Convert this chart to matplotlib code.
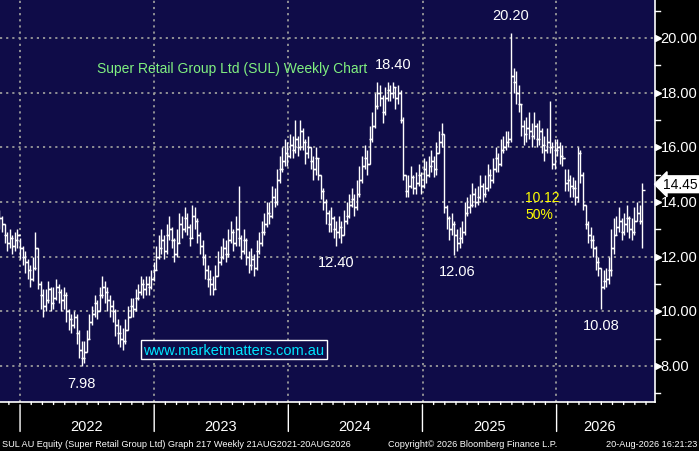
import matplotlib.pyplot as plt
import numpy as np

plt.rcParams['font.family'] = ['Liberation Sans', 'DejaVu Sans']

# weekly bars, index 0 = first week of 2022
start_week = -8
closes = [13.4,13.2,12.8,12.5,12.7,12.4,12.6,12.8,
    12.3,12.0,11.8,11.5,11.2,11.6,12.3,11.0,
    10.6,10.2,10.4,10.8,10.3,10.5,10.9,10.7,
    10.4,10.6,10.0,9.7,9.5,9.8,9.2,8.6,
    8.3,8.5,9.0,9.6,9.9,10.3,10.0,10.6,
    10.9,10.7,10.4,10.2,10.0,9.5,9.2,9.0,
    8.9,9.3,9.8,10.2,10.1,10.5,10.7,11.0,
    10.8,11.0,10.9,11.2,11.5,12.0,12.3,12.6,
    12.2,12.8,13.0,12.6,12.1,12.5,13.2,13.0,
    13.4,13.1,12.7,13.5,13.3,12.8,12.4,12.0,
    11.5,11.2,11.0,10.8,11.3,11.8,12.0,12.3,
    12.1,12.6,12.9,12.5,13.0,12.7,12.2,12.6,
    12.0,11.7,11.9,11.6,12.2,12.5,12.9,13.2,
    13.6,13.5,14.2,14.0,14.8,15.2,15.5,15.8,
    15.7,16.1,15.9,16.3,16.0,16.6,16.2,15.8,
    16.0,15.5,15.2,15.6,15.0,14.4,14.0,13.6,
    13.2,13.4,13.0,12.9,13.1,12.8,13.3,13.5,
    13.9,14.1,13.8,14.3,14.8,15.3,15.6,15.4,
    16.3,16.8,17.5,18.0,17.8,17.3,17.8,18.1,
    18.0,18.2,17.8,18.0,17.0,15.0,14.4,14.6,
    14.9,14.5,14.7,15.0,14.6,15.2,15.0,15.3,
    15.5,15.2,15.8,16.2,16.5,13.8,13.4,13.0,
    13.2,12.8,12.5,12.7,12.9,13.6,13.8,13.9,
    14.3,14.0,14.2,14.6,14.3,14.5,15.0,14.8,
    15.2,15.6,15.4,15.9,16.0,16.2,16.3,18.6,
    18.4,18.0,17.6,16.8,16.5,16.7,16.6,16.4,
    16.8,16.3,16.6,16.1,15.9,16.2,16.0,15.4,
    15.9,16.0,15.7,15.6,14.7,14.8,14.6,14.5,
    14.2,15.8,15.0,13.9,13.2,12.8,12.6,12.3,
    11.8,11.6,10.9,11.1,11.2,11.5,12.3,12.8,
    13.1,13.3,12.9,13.2,13.4,13.0,12.9,13.3,
    13.6,13.3,14.45]
highs = [13.7,13.5,13.2,12.9,13.0,12.8,12.9,13.0,
    12.7,12.4,12.2,11.9,11.7,12.0,12.9,12.3,
    11.1,10.8,10.8,11.1,10.9,10.9,11.2,11.0,
    10.8,10.9,10.7,10.1,9.9,10.0,9.9,9.3,
    8.9,8.9,9.3,9.9,10.2,10.6,10.4,10.9,
    11.3,11.1,10.9,10.6,10.4,10.1,9.7,9.5,
    9.4,9.7,10.2,10.5,10.5,10.8,11.0,11.3,
    11.2,11.3,11.3,11.5,11.8,12.4,12.8,13.0,
    12.8,13.2,13.5,13.1,12.7,13.0,13.6,13.5,
    13.8,13.6,13.2,13.9,13.8,13.4,12.9,12.6,
    12.1,11.7,11.5,11.3,11.7,12.2,12.4,12.7,
    12.6,13.0,13.3,13.0,13.5,14.6,12.8,13.0,
    12.7,12.2,12.3,12.1,12.6,12.9,13.3,13.6,
    14.0,14.0,14.6,14.5,15.2,15.7,16.0,16.3,
    16.2,16.5,16.4,17.0,16.4,17.0,16.7,16.3,
    16.4,16.0,15.7,16.0,15.6,15.0,14.5,14.1,
    13.7,13.8,13.5,13.3,13.5,13.3,13.7,14.0,
    14.3,14.5,14.3,14.8,15.3,15.7,16.1,15.9,
    16.8,17.3,18.0,18.4,18.3,17.9,18.2,18.4,
    18.3,18.4,18.2,18.3,18.1,17.1,15.0,15.0,
    15.3,15.0,15.1,15.4,15.1,15.6,15.5,15.7,
    15.9,15.7,16.2,16.6,16.9,16.5,13.9,13.5,
    13.6,13.3,13.0,13.1,13.3,14.0,14.2,14.3,
    14.7,14.5,14.6,15.0,14.7,15.0,15.4,15.2,
    15.6,16.0,15.8,16.3,16.4,16.6,16.6,20.2,
    18.9,18.8,18.3,17.6,17.0,17.1,17.3,16.9,
    17.3,16.9,17.0,16.7,16.4,16.7,17.7,16.2,
    16.3,16.3,16.2,16.1,15.2,15.2,15.0,14.9,
    14.8,16.0,15.9,15.1,13.9,13.3,13.1,12.8,
    12.4,12.0,11.6,11.5,11.6,12.0,13.0,13.4,
    13.5,13.8,13.4,13.6,13.9,13.5,13.4,13.8,
    14.0,13.9,14.7]
lows = [13.0,12.9,12.5,12.2,12.3,12.1,12.2,12.3,
    11.9,11.7,11.4,11.2,10.9,11.1,11.5,10.8,
    10.1,9.8,10.0,10.3,10.0,10.1,10.4,10.3,
    10.0,10.1,9.6,9.3,9.2,9.4,8.8,8.3,
    7.98,8.1,8.5,9.0,9.5,9.8,9.7,10.0,
    10.5,10.3,10.0,9.8,9.6,9.1,8.8,8.7,
    8.6,8.8,9.3,9.8,9.8,10.0,10.4,10.6,
    10.5,10.6,10.6,10.8,11.1,11.5,11.9,12.1,
    11.9,12.1,12.6,12.3,11.8,12.0,12.5,12.7,
    12.9,12.8,12.4,12.7,13.0,12.5,12.1,11.7,
    11.2,10.9,10.6,10.6,10.8,11.3,11.7,11.9,
    11.8,12.0,12.5,12.2,12.4,12.4,11.9,12.1,
    11.7,11.4,11.5,11.3,11.5,12.1,12.4,12.8,
    13.1,13.2,13.4,13.8,13.9,14.7,15.1,15.3,
    15.3,15.6,15.6,15.8,15.7,15.9,15.9,15.4,
    15.6,15.2,14.8,15.0,14.8,14.1,13.7,13.2,
    12.9,12.9,12.7,12.4,12.7,12.5,12.8,13.2,
    13.4,13.8,13.5,13.7,14.2,14.7,15.2,15.0,
    15.4,16.2,16.7,17.4,17.5,16.9,17.2,17.7,
    17.7,17.8,17.4,17.6,16.9,14.8,14.2,14.2,
    14.5,14.3,14.3,14.6,14.3,14.5,14.7,14.9,
    15.1,14.9,15.0,15.8,16.0,13.6,13.0,12.6,
    12.8,12.06,12.2,12.3,12.5,12.8,13.5,13.6,
    13.8,13.8,13.9,14.1,14.0,14.2,14.4,14.5,
    14.7,15.1,15.1,15.3,15.8,15.9,16.0,16.2,
    18.0,17.6,17.3,16.4,16.1,16.2,16.3,16.0,
    16.3,16.0,16.1,15.8,15.5,15.8,15.8,15.2,
    15.2,15.7,15.4,15.3,14.4,14.4,14.2,14.2,
    13.9,14.0,14.7,13.7,13.0,12.5,12.3,12.0,
    11.5,11.3,10.08,10.8,10.9,11.0,11.3,12.1,
    12.8,12.9,12.6,12.8,12.9,12.7,12.6,12.8,
    13.3,13.2,12.3]
opens = [closes[0]] + closes[:-1]

years = ['2022', '2023', '2024', '2025', '2026']
year_starts = [0, 52.1, 104.3, 156.8, 208.6]
price_ticks = [8, 10, 12, 14, 16, 18, 20]
extremes = [(24, 7.98, 'below'), (123, 12.40, 'below'), (145, 18.40, 'above'),
            (170, 12.06, 'below'), (191, 20.20, 'above'), (226, 10.08, 'below')]
last_price = 14.45

bg = '#0f0c48'
fig = plt.figure(figsize=(6.99, 4.52), dpi=100, facecolor='black')
ax = fig.add_axes([0, 49/452, 655/699, 403/452])
ax.set_facecolor(bg)
x0, x1 = -7.8, 247
ax.set_xlim(x0, x1)
ax.set_ylim(6.68, 21.43)

for v in price_ticks:
    ax.axhline(v, color='#9a9a9a', ls=(0, (1.2, 2.2)), lw=1.3, zorder=1)
for v in year_starts:
    ax.axvline(v, color='#9a9a9a', ls=(0, (1.2, 2.2)), lw=1.3, zorder=1)

n = len(closes)
assert len(highs) == n and len(lows) == n
xs = np.arange(n) + start_week
ax.vlines(xs, lows, highs, color='white', lw=1, zorder=3)
ax.hlines(opens, xs - 1.1, xs, color='white', lw=1, zorder=3)
ax.hlines(closes, xs, xs + 1.1, color='white', lw=1, zorder=3)

for i, v, pos in extremes:
    y = v + 0.65 if pos == 'above' else v - 0.6
    ax.text(i, y, f'{v:.2f}', color='white', fontsize=10.5,
            ha='center', va='center', zorder=5)

ax.text(97/655*(x1-x0)+x0, 18.9, 'Super Retail Group Ltd (SUL) Weekly Chart',
        color='#80f080', fontsize=10, va='center')
ax.text(203, 14.2, '10.12', color='#ffff00', fontsize=10, ha='center', va='center')
ax.text(202, 13.55, '50%', color='#ffff00', fontsize=10, ha='center', va='center')
ax.text(48, 8.6, 'www.marketmatters.com.au', color='#00e5ff', fontsize=10.5,
        va='center', bbox=dict(facecolor=bg, edgecolor='white', pad=2.0, lw=1))

ax.set_xticks([])
ax.set_yticks([])
for s in ax.spines.values():
    s.set_visible(False)

# right axis
ax.plot([1, 1], [0, 1], transform=ax.transAxes, color='white', lw=1.2, clip_on=False)
for v in range(7, 22):
    if v in price_ticks:
        ax.plot(x1 + 1.2, v, marker='>', color='white', ms=5, clip_on=False)
        ax.text(x1 + 2.2, v, f'{v:.2f}', color='white', fontsize=10.5, va='center')
    else:
        ax.plot([x1, x1 + 2], [v, v], color='white', lw=1, clip_on=False)
ax.text(x1 + 3.2, last_price + 0.2, f'{last_price:.2f}', color='black', fontsize=10,
        va='center', zorder=6,
        bbox=dict(boxstyle='larrow,pad=0.1', facecolor='white', edgecolor='white'))

# bottom axis
ax.plot([0, 1], [0, 0], transform=ax.transAxes, color='white', lw=1.2, clip_on=False)
for k in range(-1, 57):
    m = k * 52.18 / 12
    if x0 < m < x1:
        long = k % 12 == 0
        ax.annotate('', xy=(m, 0), xycoords=('data', 'axes fraction'),
                    xytext=(m, -0.08 if long else -0.013),
                    textcoords=('data', 'axes fraction'),
                    arrowprops=dict(arrowstyle='-', color='white', lw=1))
for j, yr in enumerate(years):
    mid = year_starts[j] + 26 if j < 4 else year_starts[j] + 17
    ax.text(mid, -0.06, yr, transform=ax.get_xaxis_transform(), color='white',
            fontsize=10.5, ha='center', va='center')

fig.text(0.003, 0.017, 'SUL AU Equity (Super Retail Group Ltd) Graph 217 Weekly 21AUG2021-20AUG2026',
         color='white', fontsize=6.6, va='center')
fig.text(0.555, 0.017, 'Copyright\u00a9 2026 Bloomberg Finance L.P.', color='white',
         fontsize=6.6, va='center')
fig.text(0.997, 0.017, '20-Aug-2026 16:21:23', color='white', fontsize=6.6,
         va='center', ha='right')

fig.savefig('out.png', dpi=100, facecolor='black')
